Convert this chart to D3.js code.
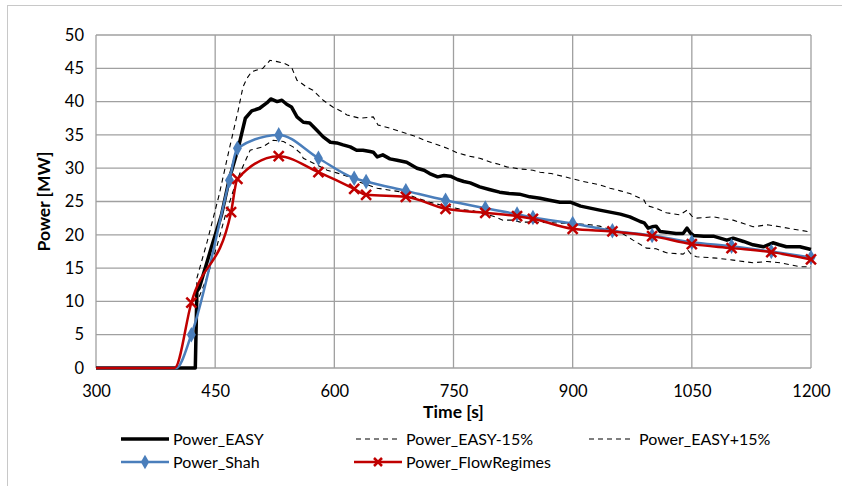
<!DOCTYPE html>
<meta charset="utf-8">
<style>
body { margin: 0; background: #fff; }
text { font-family: Lato, "Liberation Sans", sans-serif; fill: #000; }
</style>
<svg width="842" height="486"></svg>
<script src="https://d3js.org/d3.v7.min.js"></script>
<script>

var easyTime  = [300,425,427,430,445,458,468,479,483,488,496,506,515,520,528,534,540,546,553,561,569,578,586,595,603,611,620,628,636,645,649,654,661,670,679,691,704,713,720,730,738,746,755,763,771,783,795,808,820,833,846,859,871,884,897,910,922,934,947,960,972,985,990,995,1000,1005,1010,1018,1030,1039,1044,1048,1052,1065,1077,1094,1102,1115,1127,1140,1152,1160,1169,1186,1200];
var easyPower = [0,0,11.5,12,18,23,28.5,33,35,37.5,38.6,39,39.8,40.4,40,40.2,39.6,39.2,37.7,36.9,36.8,35.7,34.7,33.9,33.8,33.5,33.2,32.7,32.7,32.5,32.4,31.7,32,31.4,31.2,30.9,30,29.7,29.2,28.7,28.9,28.8,28.3,28,27.8,27.2,26.8,26.4,26.2,26.1,25.7,25.5,25.2,24.9,24.9,24.3,24,23.7,23.4,23.1,22.7,22,21.8,21,21.2,21.3,20.5,20.4,20.2,20.2,21,20.3,19.9,19.8,19.8,19.2,19.5,19,18.5,18.2,18.8,18.5,18.2,18.2,17.8];

var plusTime  = [300,425,427,440,455,468,479,485,490,496,510,519,528,536,546,553,557,565,573,586,598,608,616,632,649,655,670,686,704,713,728,742,755,770,783,797,807,817,833,850,859,873,887,897,910,922,934,947,960,972,985,990,993,1005,1018,1035,1044,1050,1056,1077,1090,1102,1115,1127,1145,1161,1175,1186,1200];
var plusPower = [0,0,13.5,19,26,33,38.7,42.2,43.5,44.5,45,46.2,46,45.8,45.2,43.2,42.9,42.2,41.7,40.2,39.2,38.6,38,37.5,37.7,36.5,36,35.4,34.7,34.2,33.6,33,32.3,31.8,31.5,30.9,30.6,30.2,29.9,29.7,29.4,29.2,28.8,28.5,28.1,27.8,27.5,27,26.6,26.2,25.5,25.2,24.4,24,23.3,23,23.7,22.8,22.5,22.7,22.4,22.2,21.7,21.2,21.5,21.2,20.9,20.7,20.4];

var minusTime  = [300,425,427,440,452,463,473,481,494,510,523,536,548,557,561,578,591,603,616,632,654,670,686,704,720,733,746,760,775,790,800,812,825,834,850,875,897,910,922,934,947,960,976,993,1005,1018,1039,1045,1050,1056,1081,1102,1127,1145,1161,1186,1200];
var minusPower = [0,0,9.8,13.7,18.2,23,26.7,29.2,32.7,33.2,34.2,34,33.2,32.3,31.5,30.5,29.7,29.3,28.8,27.9,27,26.7,26.4,25.5,24.9,24.5,24.2,23.8,23.6,23.1,22.8,22.2,22.2,21.9,21.9,21.8,21.7,21.6,21.5,21.3,20.8,20.4,19.2,18,17.9,17.3,17.1,17.7,17,16.7,16.5,16.2,15.8,16,15.8,15.2,15.2];

var shahTime  = [300,401,420,468,478,530,580,625,640,690,740,790,830,850,900,950,1000,1050,1100,1150,1200];
var shahPower = [0,0,5,28.2,33,35,31.5,28.5,28,26.6,25.2,24,23.1,22.6,21.7,20.6,19.9,18.9,18.3,17.5,16.6];

var flowTime  = [300,399,420,470,478,530,580,625,640,690,740,790,830,850,900,950,1000,1050,1100,1150,1200];
var flowPower = [0,0,9.8,23.4,28.4,31.8,29.4,26.9,26,25.7,23.9,23.3,22.8,22.4,20.9,20.5,19.8,18.6,18,17.4,16.3];

var xTicks = [300,450,600,750,900,1050,1200];
var yTicks = [0,5,10,15,20,25,30,35,40,45,50];
var seriesNames = ["Power_EASY","Power_EASY-15%","Power_EASY+15%","Power_Shah","Power_FlowRegimes"];

var svg = d3.select("svg"),
    margin = {top: 35, right: 31, bottom: 118, left: 96},
    width = +svg.attr("width") - margin.left - margin.right,
    height = +svg.attr("height") - margin.top - margin.bottom;

// outer chart border (runs off the right/bottom edge like the screenshot)
svg.append("rect")
    .attr("x", 7.5).attr("y", 5.5)
    .attr("width", 900).attr("height", 600)
    .attr("fill", "none").attr("stroke", "#c8c8c8");

var g = svg.append("g").attr("transform", "translate(" + margin.left + "," + margin.top + ")");

var x = d3.scaleLinear().domain([300, 1200]).range([0, width]);
var y = d3.scaleLinear().domain([0, 50]).range([height, 0]);

// grid
g.append("g").selectAll("line").data(yTicks).enter().append("line")
    .attr("x1", 0).attr("x2", width)
    .attr("y1", function(d){ return y(d); }).attr("y2", function(d){ return y(d); })
    .attr("stroke", "#a0a0a0").attr("stroke-width", 1.3);
g.append("g").selectAll("line").data(xTicks).enter().append("line")
    .attr("y1", 0).attr("y2", height)
    .attr("x1", function(d){ return x(d); }).attr("x2", function(d){ return x(d); })
    .attr("stroke", "#a0a0a0").attr("stroke-width", 1.3);

// tick labels
g.append("g")
    .attr("transform", "translate(0," + height + ")")
    .call(d3.axisBottom(x).tickValues(xTicks).tickFormat(d3.format("d")).tickSize(0).tickPadding(17))
    .call(function(a){ a.select(".domain").remove(); })
    .selectAll("text").style("font-size", "16.5px").style("font-family", "Lato");
g.append("g")
    .call(d3.axisLeft(y).tickValues(yTicks).tickSize(0).tickPadding(12))
    .call(function(a){ a.select(".domain").remove(); })
    .selectAll("text").style("font-size", "16.5px").style("font-family", "Lato");

svg.append("text")
    .attr("x", margin.left + width / 2).attr("y", 418)
    .attr("text-anchor", "middle")
    .style("font-size", "17.5px").style("font-weight", "bold")
    .text("Time [s]");
svg.append("text")
    .attr("transform", "translate(50," + (margin.top + height / 2) + ") rotate(-90)")
    .attr("text-anchor", "middle")
    .style("font-size", "17.5px").style("font-weight", "bold")
    .text("Power [MW]");

function pts(t, p) {
  return t.map(function(d, i){ return [d, p[i]]; });
}

var line = d3.line()
    .x(function(d){ return x(d[0]); })
    .y(function(d){ return y(d[1]); });
var smooth = d3.line()
    .x(function(d){ return x(d[0]); })
    .y(function(d){ return y(d[1]); })
    .curve(d3.curveMonotoneX);

g.append("path").datum(pts(minusTime, minusPower))
    .attr("d", line).attr("fill", "none")
    .attr("stroke", "#000").attr("stroke-width", 1.1).attr("stroke-dasharray", "5,4");
g.append("path").datum(pts(plusTime, plusPower))
    .attr("d", line).attr("fill", "none")
    .attr("stroke", "#000").attr("stroke-width", 1.1).attr("stroke-dasharray", "5,4");
g.append("path").datum(pts(easyTime, easyPower))
    .attr("d", line).attr("fill", "none")
    .attr("stroke", "#000").attr("stroke-width", 3.5).attr("stroke-linejoin", "round");

var blue = "#4a7ebb", red = "#c00000";

var shah = pts(shahTime, shahPower);
g.append("path").datum(shah)
    .attr("d", smooth).attr("fill", "none")
    .attr("stroke", blue).attr("stroke-width", 2.5);
g.append("g").selectAll("path").data(shah.filter(function(d){ return d[1] > 0; }))
    .enter().append("path")
    .attr("d", d3.symbol(d3.symbolDiamond, 70))
    .attr("transform", function(d){ return "translate(" + x(d[0]) + "," + y(d[1]) + ")"; })
    .attr("fill", blue);

var flow = pts(flowTime, flowPower);
g.append("path").datum(flow)
    .attr("d", smooth).attr("fill", "none")
    .attr("stroke", red).attr("stroke-width", 2.5);
g.append("g").selectAll("path").data(flow.filter(function(d){ return d[1] > 0; }))
    .enter().append("path")
    .attr("d", "M-5,-5L5,5M-5,5L5,-5")
    .attr("transform", function(d){ return "translate(" + x(d[0]) + "," + y(d[1]) + ")"; })
    .attr("stroke", red).attr("stroke-width", 2.5);

// legend
var leg = [
  {x: 121, y: 439, name: seriesNames[0]},
  {x: 354, y: 439, name: seriesNames[1]},
  {x: 587, y: 439, name: seriesNames[2]},
  {x: 121, y: 462, name: seriesNames[3]},
  {x: 354, y: 462, name: seriesNames[4]}
];
leg.forEach(function(l, i) {
  var lg = svg.append("g").attr("transform", "translate(" + l.x + "," + l.y + ")");
  var ln = lg.append("line").attr("x1", 0).attr("x2", 48).attr("y1", 0).attr("y2", 0);
  if (i == 0) ln.attr("stroke", "#000").attr("stroke-width", 3.5);
  if (i == 1 || i == 2) ln.attr("stroke", "#000").attr("stroke-width", 1.1).attr("stroke-dasharray", "5,4").attr("x1", 2).attr("x2", 47);
  if (i == 3) {
    ln.attr("stroke", blue).attr("stroke-width", 2.5);
    lg.append("path").attr("d", d3.symbol(d3.symbolDiamond, 60)).attr("transform", "translate(24,0)").attr("fill", blue);
  }
  if (i == 4) {
    ln.attr("stroke", red).attr("stroke-width", 2.5);
    lg.append("path").attr("d", "M-4,-4L4,4M-4,4L4,-4").attr("transform", "translate(24,0)")
      .attr("stroke", red).attr("stroke-width", 2.5);
  }
  lg.append("text").attr("x", 52).attr("y", 0).attr("dy", "0.35em")
    .style("font-size", "16px").text(l.name);
});

</script>
